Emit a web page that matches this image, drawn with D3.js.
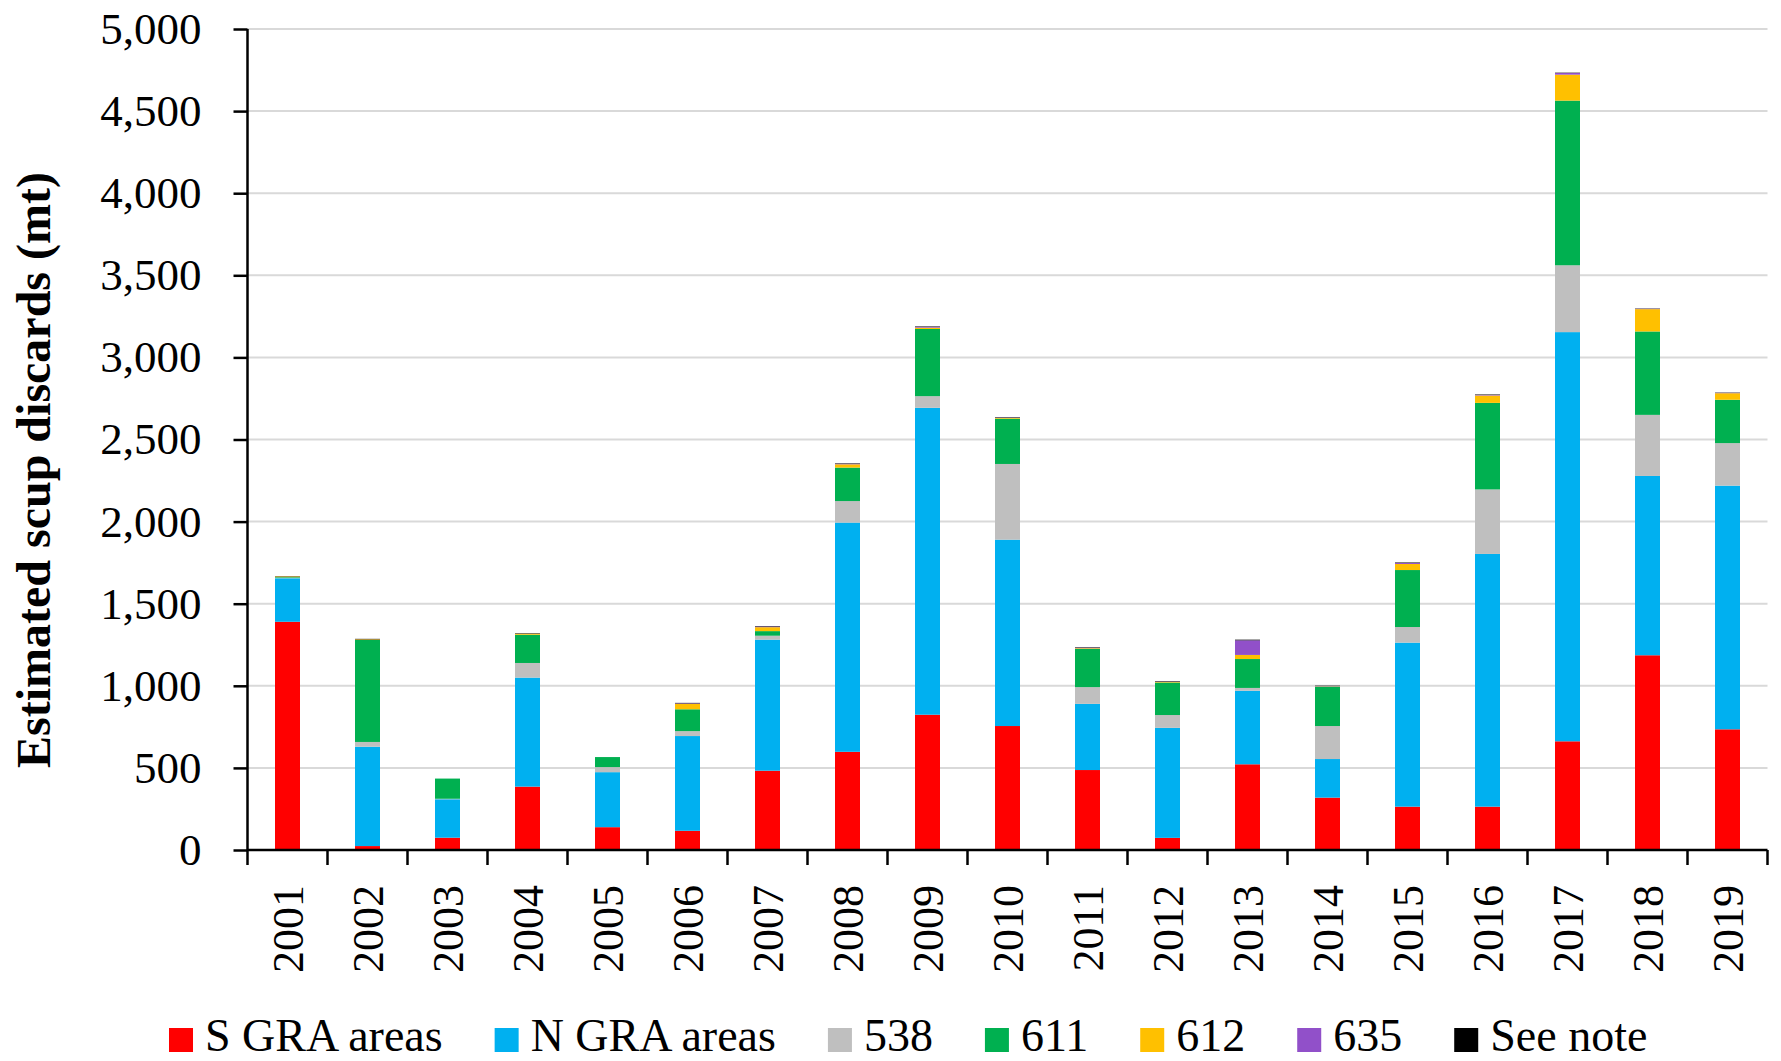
<!DOCTYPE html>
<html>
<head>
<meta charset="utf-8">
<script src="https://cdnjs.cloudflare.com/ajax/libs/d3/7.8.5/d3.min.js"></script>
<style>
  body { margin: 0; background: #fff; }
  svg { display: block; font-family: "Liberation Serif", "Times New Roman", serif; }
</style>
</head>
<body>
<svg width="1781" height="1061"></svg>
<script>
const years = ["2001", "2002", "2003", "2004", "2005", "2006", "2007", "2008", "2009", "2010",
               "2011", "2012", "2013", "2014", "2015", "2016", "2017", "2018", "2019"];

const sGra = [1390, 24, 75, 386, 139, 117, 483, 598, 824, 755, 487, 74, 522, 319, 264, 264, 662, 1186, 735];
const nGra = [265, 605, 234, 664, 335, 577, 798, 1396, 1869, 1135, 403, 670, 448, 235, 999, 1539, 2492, 1092, 1484];
const area538 = [3, 29, 3, 89, 31, 30, 24, 131, 71, 461, 102, 78, 17, 201, 95, 393, 407, 372, 259];
const area611 = [4, 621, 123, 172, 61, 133, 28, 204, 409, 276, 233, 198, 176, 240, 347, 527, 1003, 508, 264];
const area612 = [4, 4, 0, 6, 0, 33, 24, 20, 8, 4, 4, 4, 25, 2, 37, 45, 158, 136, 40];
const area635 = [0, 0, 0, 0, 0, 3, 4, 3, 5, 2, 3, 2, 89, 2, 6, 3, 10, 2, 2];
const seeNote = [2, 3, 0, 3, 0, 3, 3, 3, 3, 3, 3, 3, 4, 2, 3, 3, 2, 2, 2];

const seriesNames = ["S GRA areas", "N GRA areas", "538", "611", "612", "635", "See note"];
const seriesValues = [sGra, nGra, area538, area611, area612, area635, seeNote];
const colors = ["#ff0000", "#00b0f0", "#bfbfbf", "#00b050", "#ffc000", "#9150c9", "#000000"];
const yTicks = [0, 500, 1000, 1500, 2000, 2500, 3000, 3500, 4000, 4500, 5000];

function drawChart() {
  const svg = d3.select("svg");
  const left = 247.5, right = 1767.5, top = 29, bottom = 850;

  // rows for d3.stack
  const rows = years.map((yr, i) => {
    const row = { year: yr };
    seriesNames.forEach((name, j) => row[name] = seriesValues[j][i]);
    return row;
  });
  const stacked = d3.stack().keys(seriesNames)(rows);

  const x = d3.scaleBand().domain(years).range([left, right]).paddingInner(0.6875).paddingOuter(0.34375);
  const y = d3.scaleLinear().domain([0, 5000]).range([bottom, top]);

  // gridlines
  svg.append("g")
    .selectAll("line")
    .data(yTicks.filter(d => d > 0))
    .enter().append("line")
    .attr("x1", left).attr("x2", right)
    .attr("y1", d => y(d)).attr("y2", d => y(d))
    .attr("stroke", "#d9d9d9")
    .attr("stroke-width", 2);

  // bars
  svg.append("g")
    .selectAll("g")
    .data(stacked)
    .enter().append("g")
    .attr("fill", (d, i) => colors[i])
    .selectAll("rect")
    .data(d => d)
    .enter().append("rect")
    .attr("x", d => x(d.data.year))
    .attr("width", x.bandwidth())
    .attr("y", d => y(d[1]))
    .attr("height", d => y(d[0]) - y(d[1]));

  // y axis
  const yAxis = svg.append("g")
    .attr("transform", `translate(${left},0)`)
    .call(d3.axisLeft(y).tickValues(yTicks).tickSize(14).tickPadding(32).tickFormat(d3.format(",")));
  yAxis.select(".domain").attr("stroke", "#000").attr("stroke-width", 2.5)
    .attr("d", `M0,${top}V${bottom}`);
  yAxis.selectAll(".tick line").attr("stroke", "#000").attr("stroke-width", 2.5);
  yAxis.selectAll("text")
    .attr("font-size", 45)
    .attr("fill", "#000")
    .attr("font-family", "Liberation Serif, Times New Roman, serif");

  // x axis, ticks sit between categories
  const xAxis = svg.append("g").attr("transform", `translate(0,${bottom})`);
  xAxis.append("line")
    .attr("x1", left).attr("x2", right)
    .attr("stroke", "#000").attr("stroke-width", 2.5);
  const step = x.step();
  xAxis.selectAll(".sep")
    .data(d3.range(years.length + 1))
    .enter().append("line")
    .attr("class", "sep")
    .attr("x1", i => left + i * step).attr("x2", i => left + i * step)
    .attr("y1", 0).attr("y2", 15)
    .attr("stroke", "#000").attr("stroke-width", 2.5);
  xAxis.selectAll(".lbl")
    .data(years)
    .enter().append("text")
    .attr("class", "lbl")
    .attr("transform", d => `translate(${x(d) + x.bandwidth() / 2},35) rotate(-90)`)
    .attr("text-anchor", "end")
    .attr("dy", "0.35em")
    .attr("font-size", 44)
    .text(d => d);

  // y title
  svg.append("text")
    .attr("transform", "translate(50,470) rotate(-90)")
    .attr("text-anchor", "middle")
    .attr("font-size", 48)
    .attr("font-weight", "bold")
    .text("Estimated scup discards (mt)");

  // legend
  const legend = svg.append("g").attr("transform", "translate(0,1039)");
  let lx = 169;
  seriesNames.forEach((name, i) => {
    legend.append("rect")
      .attr("x", lx).attr("y", -11)
      .attr("width", 24).attr("height", 24)
      .attr("fill", colors[i]);
    const t = legend.append("text")
      .attr("x", lx + 36).attr("y", 12)
      .attr("font-size", 46)
      .text(name);
    lx += 36 + t.node().getComputedTextLength() + 52;
  });
}

drawChart();
</script>
</body>
</html>
